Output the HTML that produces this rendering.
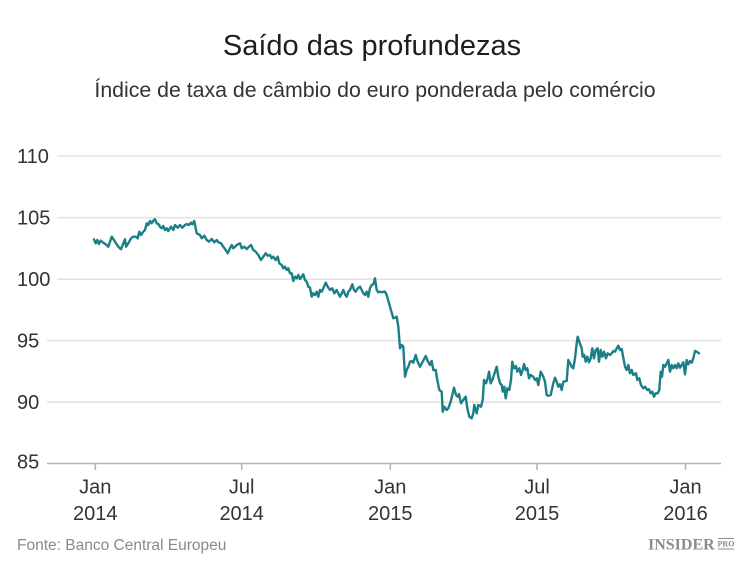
<!DOCTYPE html>
<html>
<head>
<meta charset="utf-8">
<style>
  html, body { margin: 0; padding: 0; background: #ffffff; }
  body { width: 750px; height: 567px; overflow: hidden; }
  svg { display: block; }
  text { font-family: "Liberation Sans", "DejaVu Sans", sans-serif; }
</style>
</head>
<body>
<svg width="750" height="567" viewBox="0 0 750 567" xmlns="http://www.w3.org/2000/svg">
  <rect x="0" y="0" width="750" height="567" fill="#ffffff"/>

  <!-- Title -->
  <text x="372" y="55" text-anchor="middle" font-size="29" fill="#1e1e1e">Saído das profundezas</text>
  <text x="375" y="97" text-anchor="middle" font-size="21.3" fill="#333333">Índice de taxa de câmbio do euro ponderada pelo comércio</text>

  <!-- Gridlines -->
  <g stroke="#e3e3e3" stroke-width="1.6">
    <line x1="57" y1="156" x2="721" y2="156"/>
    <line x1="57" y1="217.7" x2="721" y2="217.7"/>
    <line x1="57" y1="279.2" x2="721" y2="279.2"/>
    <line x1="47" y1="340.7" x2="721" y2="340.7"/>
    <line x1="47" y1="402.1" x2="721" y2="402.1"/>
  </g>
  <!-- Axis -->
  <line x1="47" y1="463.5" x2="721" y2="463.5" stroke="#b5b5b5" stroke-width="1.6"/>
  <g stroke="#b5b5b5" stroke-width="1.6">
    <line x1="95.3" y1="463.5" x2="95.3" y2="470"/>
    <line x1="241.7" y1="463.5" x2="241.7" y2="470"/>
    <line x1="390.3" y1="463.5" x2="390.3" y2="470"/>
    <line x1="537" y1="463.5" x2="537" y2="470"/>
    <line x1="685.5" y1="463.5" x2="685.5" y2="470"/>
  </g>

  <!-- Y labels -->
  <g font-size="20" fill="#333333">
    <text x="17" y="163">110</text>
    <text x="17" y="224.7">105</text>
    <text x="17" y="286.2">100</text>
    <text x="17" y="347.7">95</text>
    <text x="17" y="409.1">90</text>
    <text x="17" y="468.5">85</text>
  </g>

  <!-- X labels -->
  <g font-size="20" fill="#333333" text-anchor="middle">
    <text x="95.3" y="493.5">Jan</text>
    <text x="95.3" y="520">2014</text>
    <text x="241.7" y="493.5">Jul</text>
    <text x="241.7" y="520">2014</text>
    <text x="390.3" y="493.5">Jan</text>
    <text x="390.3" y="520">2015</text>
    <text x="537" y="493.5">Jul</text>
    <text x="537" y="520">2015</text>
    <text x="685.5" y="493.5">Jan</text>
    <text x="685.5" y="520">2016</text>
  </g>

  <!-- Series -->
  <polyline fill="none" stroke="#1b7f87" stroke-width="2.4" stroke-linejoin="round" stroke-linecap="round"
    points="94,239.3 95.7,243.3 97.3,240 99,244 100.7,240.7 103.3,242.7 105.7,244.3 108.3,246.7 111.7,236.7 115,241.7 118.3,246.7 121,249.3 123.3,243.3 125,239.3 126,246.7 128.3,243.3 131,238.3 133.3,236.7 135.7,236.7 137.7,238.3 139.3,231.7 141,235 143.3,231.7 145,230 146.7,223.3 148.3,225 150,221 151.7,223.3 153.3,220.7 155,219.3 156.7,223.3 158.3,224 160,226.7 161.7,228.3 163.3,226 165,230 166.7,228.3 168.3,231 171,226.7 173.3,230 175,225 177.7,227.7 180,225 182.3,227.7 185,225 186.7,224 189,225 191,222.7 192.3,224.3 194.3,221 196.7,233.3 200,235 201.7,238.3 204.3,235.7 206.7,240 209,241.7 211.7,239 214.3,242.3 216.7,240 218.3,242.3 221,243.3 223.3,246.7 225.7,250 227.7,253.3 230,248.3 231.7,245 233.3,248.3
    235,246.7 237.7,244.3 240,243.3 241.7,248.3 244.3,246.7 246.7,249 249,246.7 251,245 253.3,250 255.7,251.7 258.3,255 261,260 263.3,256.7 265.7,253.3 267.7,255.7 270,255 271.7,258.3 273.3,256.7 275.7,260 277.7,256.7 279.3,263.3 281.7,265 283.3,268.3 285,266.7 286.7,270 288.3,268.3 290,273.3 291.7,273.3 293.3,281 295,276.7 296.7,278.3 298.3,275 300,279 301.7,276.7 303.3,274.3 305,280 306.7,281.7 308.3,286.7 310,287.7 311.7,296.7 313.3,293.3 315,295 316.7,291.7 318.3,296.7 320,290 321.7,291.7 323.3,288.3 325.7,282.7 327.7,286.7 330,290 332.3,288.3 334.3,293.3 336.7,290 338.3,293.3 340,296.7 341.7,293.3 343.3,290 345,294.3 346.7,296.7 348.3,291.7 350,290 352.3,284.3 354,290 355.7,291.7 357.7,288.3 360,286.7 361.7,290 363.3,293.3 365,295 366.7,291.7 368.3,296.7 370,288.3 371.7,285 373.3,284.3 375,278.3 376.7,290 378.3,292.3 380,291.7 381.7,292.3 383.3,291.7 385,291.7
    386.7,295 390,306.7 393.3,318.3 395,317.7 396.7,316.7 398.3,326.7 400,348.3 401.7,345 403.3,346.7 405,376.7 406.7,370 408.3,366.7 410,361.7 411.7,361 413.3,362.7 415.7,355 417.3,360.7 420,366.7 422.7,361.7 425.7,356 427.7,361 430,365 431.7,361 433.3,370 435.7,370 437.3,380 439.3,390 441.7,391.7 442.7,411.7 444.3,406.7 446.7,410 448.3,408.3 450.7,401.7 454,387.7 456,395 457.7,396.7 459,394 461,403.3 463.3,400 465.7,396.7 467.3,408.3 469.3,416.7 471.7,418.3 473.3,413.3 474.3,405 476.7,413.3 478.3,405 481,406.7 482.7,400 484,380 486,383.3 487.7,378.3 489,371.7 490.7,383.3 492.3,380 494,375 496.7,366.7 498.3,376.7 500,383.3 501.7,385 502.7,391.7 504.3,386.7 505.7,398.3 507.3,388.3 509.3,390 511,380 512.3,361.7 514,368.3 516,366 517.3,371.7 519.3,368.3 521,375 522.7,370 524,364 525.7,370 527.3,368.3 529,378.3 530.7,375
    533.3,376.7 535,380 536.7,378.3 538.3,385 540.7,371.7 543.3,376.7 545,381.7 546.7,395 548.3,395.7 550.7,395 553.3,383.3 555,377.7 556.7,381.7 558.3,386.7 560,384.3 561.7,390 563.3,381.7 566.7,381 568.3,360 570,363.3 571.7,366.7 573.3,368.3 575,358.3 576.7,343.3 577.7,336.7 579.3,341.7 581.7,348.3 582.7,356.7 584.3,355 585.7,361.7 587.3,356.7 589,362.3 590.7,358.3 592.3,348.3 594,358.3 595.7,350 597.7,348.3 599,361.7 600.7,350 602.3,356.7 604,351.7 606,358.3 607.7,353.3 610,355 611.7,353.3 613.3,351 615,351.7 616.7,348.3 618.3,345.7 620,350 621.7,349 625,366.7 626.7,370 628.3,365 630,373.3 631.7,370 633.3,375 636,373.3 637.3,380 639.3,378.3 641,385 643.3,388.3 645,386.7 647.3,390 649,389.3 650.7,393.3 652.3,391.7 654,396.7 655.7,393.3 657.7,393.3 659.3,390 660.7,371.7 662,376.7 663.3,365 665,366.7 666.7,363.3 668.3,360 670,371.7 671.7,365 673.3,368.3 675,365 676.7,368.3 678.3,363.3 680,367.7 681.7,365 683.3,362.3 685,374.3 686.7,360 688.3,364.3 690,361 691.7,362.7 693.3,358.3 695,351 696.7,351.7 699,353.3"/>

  <!-- Footer -->
  <text x="17" y="550" font-size="15.5" fill="#8a8a8a">Fonte: Banco Central Europeu</text>
  <text x="648" y="549.5" font-size="16" font-weight="bold" fill="#8c8c8c" style="font-family: 'Liberation Serif', serif;">INSIDER</text>
  <line x1="718" y1="538.5" x2="734" y2="538.5" stroke="#8c8c8c" stroke-width="1"/>
  <text x="726" y="546.5" font-size="8" font-weight="bold" fill="#8c8c8c" text-anchor="middle" style="font-family: 'Liberation Serif', serif;">PRO</text>
  <line x1="718" y1="549" x2="734" y2="549" stroke="#8c8c8c" stroke-width="1"/>
</svg>
</body>
</html>
